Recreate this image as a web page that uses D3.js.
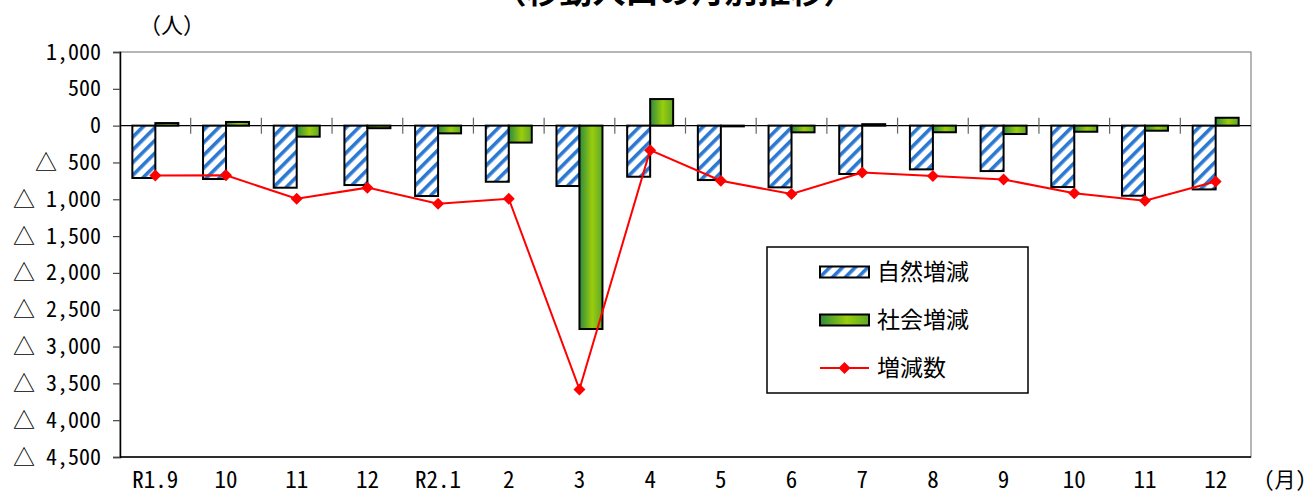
<!DOCTYPE html>
<html>
<head>
<meta charset="utf-8">
<script src="https://cdn.jsdelivr.net/npm/d3@7"></script>
<style>
  body { margin: 0; background: #fff; }
  text { font-family: "Noto Sans CJK JP", "Noto Sans", sans-serif; }
  .hw { font-feature-settings: "hwid"; }
</style>
</head>
<body>
<svg id="chart"></svg>
<script>
// 月
const months = ['R1.9', '10', '11', '12', 'R2.1', '2', '3', '4', '5', '6', '7', '8', '9', '10', '11', '12']
// 自然増減
const natural = [-711, -725, -843, -807, -956, -762, -820, -694, -739, -838, -657, -594, -617, -834, -952, -866]
// 社会増減
const social = [35, 50, -150, -35, -105, -230, -2762, 361, -10, -91, 20, -90, -114, -83, -69, 107]
// 増減数
const total = [-676, -675, -993, -842, -1061, -992, -3582, -333, -749, -929, -637, -684, -731, -917, -1021, -759]
const yTicks = [1000, 500, 0, -500, -1000, -1500, -2000, -2500, -3000, -3500, -4000, -4500]

const width = 1308
const height = 494
const mLeft = 120, mRight = 1251, mTop = 52, mBottom = 457

const svg = d3.select('#chart')
    .attr('width', width)
    .attr('height', height)

const defs = svg.append('defs')
const hatch = defs.append('pattern')
    .attr('id', 'hatch')
    .attr('patternUnits', 'userSpaceOnUse')
    .attr('width', 9).attr('height', 9)
    .attr('patternTransform', 'rotate(45)')
hatch.append('rect').attr('width', 9).attr('height', 9).attr('fill', '#fff')
hatch.append('rect').attr('width', 3.6).attr('height', 9).attr('fill', '#2a78d2')

const grad = defs.append('linearGradient')
    .attr('id', 'green')
    .attr('x1', '0%').attr('x2', '100%').attr('y1', '0%').attr('y2', '0%')
grad.append('stop').attr('offset', '0%').attr('stop-color', '#2e8a3e')
grad.append('stop').attr('offset', '55%').attr('stop-color', '#9acd0c')
grad.append('stop').attr('offset', '100%').attr('stop-color', '#5ea82a')

const x = d3.scaleBand()
    .domain(d3.range(months.length))
    .range([mLeft, mRight])
const x1 = d3.scaleBand()
    .domain(['n', 's'])
    .range([0, x.bandwidth()])
    .paddingOuter(0.537)
const y = d3.scaleLinear()
    .domain([-4500, 1000])
    .range([mBottom, mTop])

// plot frame
svg.append('rect')
    .attr('x', mLeft).attr('y', mTop)
    .attr('width', mRight - mLeft).attr('height', mBottom - mTop)
    .attr('fill', 'none').attr('stroke', '#868686').attr('stroke-width', 1.2)

// y axis
const yAxis = svg.append('g')
    .attr('transform', `translate(${mLeft},0)`)
    .call(d3.axisLeft(y).tickValues(yTicks).tickSize(7).tickFormat(d => d < 0 ? '△ ' + d3.format(',')(-d) : d3.format(',')(d)))
yAxis.select('.domain').attr('stroke', '#000').attr('stroke-width', 1.5)
yAxis.selectAll('.tick line').attr('stroke', '#444').attr('stroke-width', 1.2)
yAxis.selectAll('.tick text')
    .attr('x', -19)
    .attr('class', 'hw')
    .style('font-family', '"Noto Sans CJK JP", sans-serif')
    .style('font-size', '22px')
    .attr('fill', '#000')

// bottom line
svg.append('line')
    .attr('x1', mLeft).attr('x2', mRight)
    .attr('y1', mBottom).attr('y2', mBottom)
    .attr('stroke', '#000').attr('stroke-width', 1.5)

// zero line
svg.append('line')
    .attr('x1', mLeft).attr('x2', mRight)
    .attr('y1', y(0)).attr('y2', y(0))
    .attr('stroke', '#000').attr('stroke-width', 1.2)

// category ticks on zero line
svg.append('g')
    .selectAll('line')
    .data(d3.range(1, months.length))
    .join('line')
    .attr('x1', i => x(i)).attr('x2', i => x(i))
    .attr('y1', y(0) - 8).attr('y2', y(0) + 8)
    .attr('stroke', '#666').attr('stroke-width', 1.2)

// x labels
svg.append('g')
    .selectAll('text')
    .data(months)
    .join('text')
    .text(d => d)
    .attr('class', 'hw')
    .attr('x', (d, i) => x(i) + x.bandwidth() / 2)
    .attr('y', 488)
    .attr('text-anchor', 'middle')
    .style('font-size', '23px')

svg.append('text').text('(月)')
    .attr('class', 'hw')
    .attr('x', 1285).attr('y', 487)
    .attr('text-anchor', 'middle')
    .style('font-size', '21px')

svg.append('text').text('（人）')
    .attr('x', 172).attr('y', 33)
    .attr('text-anchor', 'middle')
    .style('font-size', '22px')

// title (clipped at top)
svg.append('text').text('（移動人口の月別推移）')
    .attr('x', 675).attr('y', 3)
    .attr('text-anchor', 'middle')
    .style('font-size', '33px')
    .style('font-weight', 'bold')

// natural bars
svg.append('g')
    .selectAll('rect')
    .data(natural)
    .join('rect')
    .attr('x', (d, i) => x(i) + x1('n'))
    .attr('width', x1.bandwidth())
    .attr('y', d => y(Math.max(0, d)))
    .attr('height', d => Math.abs(y(d) - y(0)))
    .attr('fill', 'url(#hatch)')
    .attr('stroke', '#000').attr('stroke-width', 2)

// social bars
svg.append('g')
    .selectAll('rect')
    .data(social)
    .join('rect')
    .attr('x', (d, i) => x(i) + x1('s'))
    .attr('width', x1.bandwidth())
    .attr('y', d => y(Math.max(0, d)))
    .attr('height', d => Math.abs(y(d) - y(0)))
    .attr('fill', 'url(#green)')
    .attr('stroke', '#000').attr('stroke-width', 2)

// total line
const line = d3.line()
    .x((d, i) => x(i) + x.bandwidth() / 2)
    .y(d => y(d))
svg.append('path')
    .datum(total)
    .attr('d', line)
    .attr('fill', 'none')
    .attr('stroke', '#ff0000').attr('stroke-width', 2)

const diamond = d3.symbol().type(d3.symbolSquare).size(72)
svg.append('g')
    .selectAll('path')
    .data(total)
    .join('path')
    .attr('d', diamond)
    .attr('transform', (d, i) => `translate(${x(i) + x.bandwidth() / 2},${y(d)}) rotate(45)`)
    .attr('fill', '#ff0000')

// legend
const lg = svg.append('g')
lg.append('rect')
    .attr('x', 767).attr('y', 247)
    .attr('width', 261).attr('height', 146)
    .attr('fill', '#fff').attr('stroke', '#000').attr('stroke-width', 1.5)

const legendItems = [
    { name: '自然増減', fill: 'url(#hatch)' },
    { name: '社会増減', fill: 'url(#green)' },
    { name: '増減数', fill: null },
]
legendItems.forEach((d, i) => {
    const cy = 272 + i * 48
    if (d.fill) {
        lg.append('rect')
            .attr('x', 820).attr('y', cy - 5.5)
            .attr('width', 49).attr('height', 11)
            .attr('fill', d.fill).attr('stroke', '#000').attr('stroke-width', 2)
    } else {
        lg.append('line')
            .attr('x1', 820).attr('x2', 869)
            .attr('y1', cy).attr('y2', cy)
            .attr('stroke', '#ff0000').attr('stroke-width', 2)
        lg.append('path')
            .attr('d', diamond)
            .attr('transform', `translate(844.5,${cy}) rotate(45)`)
            .attr('fill', '#ff0000')
    }
    lg.append('text')
        .text(d.name)
        .attr('x', 877).attr('y', cy + 8)
        .style('font-size', '23px')
})
</script>
</body>
</html>
